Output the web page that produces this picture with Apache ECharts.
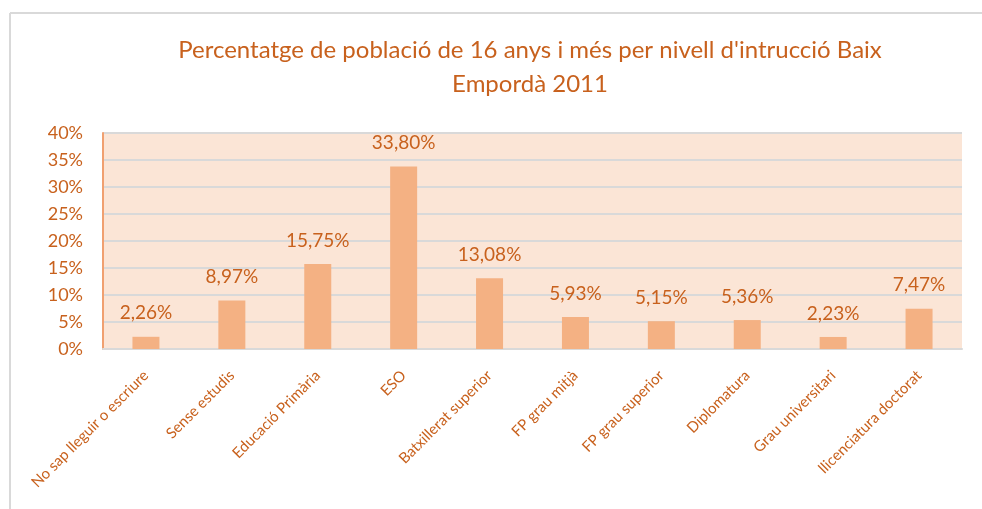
<!DOCTYPE html>
<html>
<head>
<meta charset="utf-8">
<script src="https://cdn.jsdelivr.net/npm/echarts@6/dist/echarts.min.js"></script>
<style>
html,body{margin:0;padding:0;background:#fff;}
#c{width:982px;height:509px;}
</style>
</head>
<body>
<div id="c"></div>
<script>
const titleText = "Percentatge de població de 16 anys i més per nivell d'intrucció Baix\nEmpordà 2011";
const categories = ["No sap lleguir o escriure","Sense estudis","Educació Primària","ESO","Batxillerat superior","FP grau mitjà","FP grau superior","Diplomatura","Grau universitari","llicenciatura doctorat"];
const values = [2.26, 8.97, 15.75, 33.80, 13.08, 5.93, 5.15, 5.36, 2.23, 7.47];
const yTicks = [0, 5, 10, 15, 20, 25, 30, 35, 40];

const textColor = '#c8611d';
const font = 'Lato, "Noto Sans", sans-serif';

const chart = echarts.init(document.getElementById('c'));
chart.setOption({
  animation: false,
  backgroundColor: '#ffffff',
  textStyle: { fontFamily: font },
  title: {
    text: titleText,
    left: 525, top: 28,
    textAlign: 'center',
    textStyle: { color: textColor, fontSize: 24, fontWeight: 'normal', lineHeight: 34, fontFamily: font }
  },
  graphic: [
    { type: 'line', shape: { x1: 10, y1: 13, x2: 10, y2: 509 }, style: { stroke: '#d9d9d9', lineWidth: 2 } },
    { type: 'line', shape: { x1: 10, y1: 13, x2: 982, y2: 13 }, style: { stroke: '#d9d9d9', lineWidth: 2 } }
  ],
  grid: { left: 103, right: 20, top: 133, bottom: 160, show: true, backgroundColor: '#fbe5d6', borderWidth: 0 },
  xAxis: {
    type: 'category',
    data: categories,
    axisLine: { show: true, lineStyle: { color: '#d9d9d9', width: 2 } },
    axisTick: { show: false },
    axisLabel: { interval: 0, rotate: 45, color: textColor, fontSize: 15, margin: 24, fontFamily: font }
  },
  yAxis: {
    type: 'value',
    min: yTicks[0], max: yTicks[yTicks.length - 1], interval: 5,
    axisLine: { show: true, lineStyle: { color: '#f0a070', width: 2 } },
    axisTick: { show: false },
    splitLine: { lineStyle: { color: '#d9d9d9', width: 2 } },
    axisLabel: { color: textColor, fontSize: 18, margin: 20, formatter: v => v + '%', fontFamily: font }
  },
  series: [{
    type: 'bar',
    data: values,
    barWidth: 27,
    itemStyle: { color: '#f4b183' },
    label: {
      show: true, position: 'top', distance: 14,
      color: textColor, fontSize: 19, fontFamily: font,
      formatter: p => p.value.toFixed(2).replace('.', ',') + '%'
    }
  }]
});
</script>
</body>
</html>
